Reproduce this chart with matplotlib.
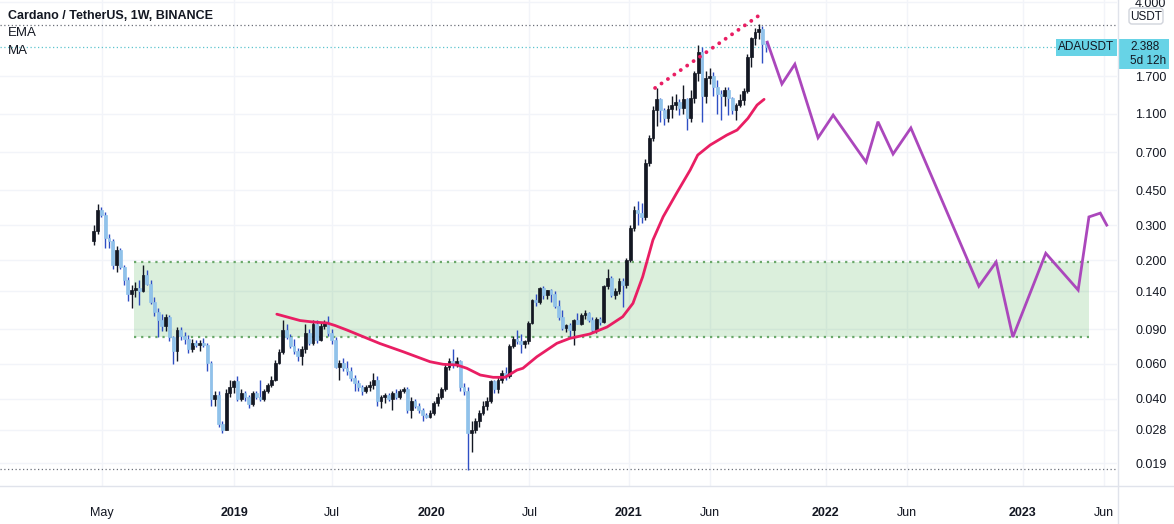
import numpy as np
import pandas as pd
import matplotlib
matplotlib.use("Agg")
import matplotlib.pyplot as plt
import matplotlib.dates as mdates
from matplotlib.patches import Rectangle, FancyBboxPatch

plt.rcParams['font.family'] = ['Liberation Sans', 'DejaVu Sans']

# Weekly ADA/USDT candles (week starts), open = previous close
first_week = "2018-04-16"
first_open = 0.25
closes = [0.28, 0.36, 0.34, 0.26, 0.25, 0.19, 0.225, 0.186, 0.16, 0.135,
          0.142, 0.145, 0.14, 0.168, 0.152, 0.123, 0.11, 0.10, 0.093, 0.103,
          0.082, 0.070, 0.089, 0.083, 0.080, 0.071, 0.077, 0.075, 0.077, 0.075,
          0.061, 0.040, 0.042, 0.030, 0.028, 0.043, 0.046, 0.049, 0.040, 0.043,
          0.041, 0.0375, 0.043, 0.041, 0.040, 0.044, 0.047, 0.050, 0.061, 0.069,
          0.089, 0.082, 0.074, 0.070, 0.066, 0.071, 0.086, 0.077, 0.096, 0.079,
          0.093, 0.097, 0.086, 0.079, 0.058, 0.061, 0.057, 0.055, 0.051, 0.048,
          0.046, 0.044, 0.046, 0.047, 0.050, 0.039, 0.041, 0.042, 0.040, 0.043,
          0.041, 0.044, 0.045, 0.035, 0.039, 0.037, 0.035, 0.033, 0.0325, 0.034,
          0.038, 0.041, 0.045, 0.058, 0.062, 0.060, 0.062, 0.046, 0.044, 0.027,
          0.028, 0.031, 0.034, 0.037, 0.039, 0.049, 0.045, 0.050, 0.054, 0.052,
          0.074, 0.080, 0.078, 0.076, 0.078, 0.097, 0.126, 0.123, 0.145, 0.133,
          0.141, 0.135, 0.117, 0.103, 0.091, 0.094, 0.089, 0.100, 0.096, 0.106,
          0.109, 0.100, 0.089, 0.101, 0.098, 0.148, 0.162, 0.133, 0.140, 0.158,
          0.150, 0.200, 0.290, 0.360, 0.345, 0.330, 0.620, 0.830, 1.15, 1.30,
          1.15, 1.05, 1.16, 1.22, 1.26, 1.17, 1.30, 1.05, 1.31, 1.76,
          2.25, 1.35, 1.66, 1.70, 1.50, 1.38, 1.35, 1.44, 1.31, 1.15,
          1.21, 1.29, 1.43, 2.12, 2.63, 2.84, 2.94, 2.48, 2.388]
highs = [0.30, 0.385, 0.37, 0.35, 0.27, 0.255, 0.235, 0.23, 0.19, 0.165,
         0.15, 0.155, 0.16, 0.19, 0.178, 0.16, 0.13, 0.115, 0.107, 0.107,
         0.106, 0.083, 0.092, 0.092, 0.087, 0.084, 0.080, 0.079, 0.079, 0.081,
         0.077, 0.062, 0.044, 0.044, 0.031, 0.045, 0.050, 0.050, 0.052, 0.045,
         0.044, 0.042, 0.044, 0.044, 0.050, 0.045, 0.048, 0.052, 0.063, 0.071,
         0.100, 0.095, 0.085, 0.080, 0.072, 0.074, 0.095, 0.090, 0.100, 0.100,
         0.097, 0.100, 0.105, 0.090, 0.082, 0.063, 0.064, 0.062, 0.058, 0.053,
         0.050, 0.047, 0.047, 0.049, 0.054, 0.052, 0.042, 0.043, 0.043, 0.044,
         0.045, 0.045, 0.046, 0.046, 0.041, 0.040, 0.038, 0.036, 0.034, 0.035,
         0.039, 0.043, 0.046, 0.060, 0.064, 0.071, 0.065, 0.063, 0.048, 0.046,
         0.031, 0.032, 0.035, 0.039, 0.041, 0.050, 0.050, 0.052, 0.056, 0.058,
         0.076, 0.083, 0.089, 0.085, 0.079, 0.099, 0.128, 0.136, 0.147, 0.148,
         0.142, 0.143, 0.140, 0.126, 0.112, 0.096, 0.097, 0.101, 0.108, 0.109,
         0.112, 0.110, 0.104, 0.104, 0.104, 0.150, 0.180, 0.166, 0.145, 0.163,
         0.162, 0.205, 0.300, 0.375, 0.400, 0.390, 0.650, 0.860, 1.20, 1.48,
         1.32, 1.17, 1.22, 1.35, 1.38, 1.30, 1.53, 1.32, 1.45, 1.80,
         2.43, 2.37, 1.80, 1.87, 1.78, 1.62, 1.45, 1.50, 1.49, 1.34,
         1.24, 1.38, 1.48, 2.20, 2.68, 2.96, 3.10, 3.05, 2.55]
lows = [0.24, 0.27, 0.33, 0.23, 0.23, 0.18, 0.175, 0.18, 0.15, 0.125,
        0.115, 0.13, 0.119, 0.138, 0.15, 0.12, 0.105, 0.082, 0.088, 0.088,
        0.078, 0.060, 0.062, 0.079, 0.076, 0.068, 0.069, 0.073, 0.070, 0.073,
        0.055, 0.037, 0.037, 0.029, 0.027, 0.028, 0.041, 0.043, 0.039, 0.039,
        0.039, 0.036, 0.037, 0.040, 0.039, 0.039, 0.043, 0.046, 0.049, 0.060,
        0.067, 0.080, 0.072, 0.067, 0.062, 0.059, 0.068, 0.075, 0.075, 0.077,
        0.078, 0.090, 0.083, 0.076, 0.057, 0.050, 0.055, 0.053, 0.049, 0.044,
        0.044, 0.042, 0.043, 0.044, 0.045, 0.037, 0.036, 0.038, 0.039, 0.035,
        0.040, 0.040, 0.043, 0.034, 0.032, 0.036, 0.034, 0.031, 0.032, 0.032,
        0.033, 0.037, 0.040, 0.044, 0.056, 0.057, 0.058, 0.044, 0.042, 0.0176,
        0.0215, 0.027, 0.029, 0.033, 0.035, 0.038, 0.043, 0.043, 0.048, 0.050,
        0.051, 0.072, 0.076, 0.068, 0.072, 0.076, 0.095, 0.118, 0.120, 0.128,
        0.128, 0.123, 0.115, 0.100, 0.089, 0.087, 0.082, 0.075, 0.095, 0.094,
        0.101, 0.098, 0.087, 0.086, 0.094, 0.097, 0.143, 0.130, 0.128, 0.136,
        0.116, 0.145, 0.195, 0.280, 0.300, 0.310, 0.320, 0.600, 0.800, 0.95,
        1.00, 0.96, 1.00, 1.05, 1.14, 1.08, 1.10, 0.91, 1.00, 1.25,
        1.60, 1.00, 1.25, 1.55, 1.35, 1.10, 1.02, 1.20, 1.08, 1.10,
        1.02, 1.18, 1.22, 1.40, 1.88, 2.45, 2.60, 1.98, 2.25]

# moving average line
ma_dates = ["2019-03-21", "2019-05-03", "2019-05-27", "2019-06-22", "2019-07-07",
            "2019-07-29", "2019-08-28", "2019-09-28", "2019-11-10", "2019-12-30",
            "2020-01-23", "2020-02-18", "2020-03-07", "2020-04-01", "2020-04-25",
            "2020-05-17", "2020-06-08", "2020-06-19", "2020-07-15", "2020-08-21",
            "2020-09-14", "2020-10-21", "2020-11-22", "2020-12-21", "2021-01-09",
            "2021-01-27", "2021-02-15", "2021-03-06", "2021-03-31", "2021-04-25",
            "2021-05-09", "2021-06-01", "2021-07-02", "2021-07-21", "2021-08-10",
            "2021-08-27", "2021-09-09"]
ma_values = [0.107, 0.0994, 0.0977, 0.0966, 0.0938,
             0.0890, 0.0824, 0.0761, 0.0692, 0.0616,
             0.0598, 0.0593, 0.0571, 0.0528, 0.0514,
             0.0514, 0.0559, 0.0571, 0.0653, 0.0763,
             0.0808, 0.0850, 0.0922, 0.1039, 0.1214,
             0.1653, 0.2532, 0.3319, 0.4369, 0.5706,
             0.6792, 0.7627, 0.8567, 0.9081, 1.040,
             1.214, 1.297]

# drawn projection path
proj_dates = ["2021-09-15", "2021-10-12", "2021-11-05", "2021-12-18", "2022-01-15",
              "2022-03-17", "2022-04-08", "2022-05-06", "2022-06-08", "2022-10-12",
              "2022-11-13", "2022-12-14", "2023-02-13", "2023-04-14", "2023-05-04",
              "2023-05-25", "2023-06-06"]
proj_values = [2.52, 1.55, 1.95, 0.83, 1.08,
               0.626, 1.00, 0.687, 0.93, 0.148,
               0.196, 0.082, 0.217, 0.1416, 0.331,
               0.346, 0.301]

trend_dates = ["2021-02-19", "2021-08-29"]
trend_values = [1.48, 3.41]

zone_dates = ["2018-06-30", "2023-05-04"]
zone_low = 0.082
zone_high = 0.196

ath_level = 3.07
last_price = 2.388
low_level = 0.0178

ytick_vals = [4.0, 1.7, 1.1, 0.7, 0.45, 0.3, 0.2, 0.14, 0.09, 0.06, 0.04, 0.028, 0.019]
xtick_dates = ["2018-05-01", "2019-01-01", "2019-07-01", "2020-01-01", "2020-07-01",
               "2021-01-01", "2021-06-01", "2022-01-01", "2022-06-01", "2023-01-01",
               "2023-06-01"]
xtick_labels = ["May", "2019", "Jul", "2020", "Jul", "2021", "Jun", "2022", "Jun", "2023", "Jun"]


def dnum(s):
    return mdates.date2num(pd.to_datetime(s))


W, H = 1174, 524
fig = plt.figure(figsize=(W / 100, H / 100), dpi=100)
fig.patch.set_facecolor("white")
plot_bottom = 486
plot_right = 1117
ax = fig.add_axes([0, (H - plot_bottom) / H, plot_right / W, plot_bottom / H])
ax.set_yscale("log")
ax.set_xlim(dnum("2017-10-24"), dnum("2023-06-25"))
ax.set_ylim(0.01455, 4.11)
for s in ax.spines.values():
    s.set_visible(False)

# grid
ax.set_yticks(ytick_vals)
ax.yaxis.set_minor_locator(matplotlib.ticker.NullLocator())
ax.set_yticklabels([f"{v:.3f}" for v in ytick_vals])
ax.set_xticks([dnum(d) for d in xtick_dates])
ax.set_xticklabels(xtick_labels)
for lbl in ax.get_xticklabels():
    if lbl.get_text().isdigit():
        lbl.set_fontweight("bold")
ax.grid(True, color="#f2f4f9", lw=1)
ax.set_axisbelow(True)
ax.yaxis.tick_right()
ax.tick_params(axis="y", length=0, pad=13, labelsize=9, colors="#131722")
ax.tick_params(axis="x", length=0, pad=15, labelsize=9, colors="#131722")

# support zone
zx = [dnum(d) for d in zone_dates]
ax.fill_between(zx, zone_low, zone_high, color="#4caf50", alpha=0.2, lw=0, zorder=1)
ax.hlines([zone_low, zone_high], zx[0], zx[1], colors="#6aa86a", lw=1.6,
          linestyles=(0, (1, 2.2)), zorder=2)

# horizontal levels
ax.axhline(ath_level, color="#6b6f78", lw=0.9, ls=(0, (1, 2)), zorder=2)
ax.axhline(last_price, color="#5cc4cf", lw=0.9, ls=(0, (1, 2)), zorder=2)
ax.axhline(low_level, color="#6b6f78", lw=0.9, ls=(0, (1, 2)), zorder=2)

# candles
weeks = pd.date_range(first_week, periods=len(closes), freq="7D")
xc = mdates.date2num(weeks)
c = np.array(closes)
o = np.array([first_open] + closes[:-1])
hi = np.array(highs)
lo = np.array(lows)
up = c >= o
wick_col = np.where(up, "#131722", "#2f4fc4")
body_col = np.where(up, "#131722", "#90c2ea")
ax.vlines(xc, lo, hi, colors=wick_col, lw=1, zorder=3)
ax.bar(xc, np.abs(c - o), bottom=np.minimum(o, c), width=5.2, color=body_col,
       edgecolor=body_col, lw=0.5, zorder=4)

# moving average
ax.plot([dnum(d) for d in ma_dates], ma_values, color="#e91e63", lw=2, zorder=5,
        solid_capstyle="round", solid_joinstyle="round")

# dotted trend line over the highs
ax.plot([dnum(d) for d in trend_dates], trend_values, color="#e91e63", lw=2.8,
        ls=(0, (0.01, 2.0)), dash_capstyle="round", zorder=5)

# projection
ax.plot([dnum(d) for d in proj_dates], proj_values, color="#ab47bc", lw=2, zorder=6,
        solid_joinstyle="miter")

# overlay in pixel coords for labels and frame lines
ov = fig.add_axes([0, 0, 1, 1], zorder=10)
ov.set_xlim(0, W)
ov.set_ylim(H, 0)
ov.axis("off")
ov.patch.set_alpha(0)
ov.plot([0, W], [plot_bottom, plot_bottom], color="#e0e3eb", lw=1)
ov.plot([plot_right + 0.5, plot_right + 0.5], [0, H], color="#e0e3eb", lw=1)

ov.text(8, 16, "Cardano / TetherUS, 1W, BINANCE", fontsize=9, fontweight="bold",
        color="#131722", va="center", ha="left")
ov.text(8, 33, "EMA", fontsize=9.5, color="#131722", va="center", ha="left")
ov.text(8, 51, "MA", fontsize=9.5, color="#131722", va="center", ha="left")

# last price labels
py = H - ax.transData.transform((ax.get_xlim()[0], last_price))[1]
ov.add_patch(Rectangle((1056, py - 8), 61, 17, color="#67d3e6", lw=0))
ov.text(1086, py + 0.5, "ADAUSDT", fontsize=8.5, color="#131722", ha="center", va="center")
ov.add_patch(Rectangle((1118, py - 8), 51, 30, color="#67d3e6", lw=0))
ov.text(1130, py + 0.5, f"{last_price:.3f}", fontsize=8.5, color="#131722", ha="left", va="center")
ov.text(1130, py + 14, "5d 12h", fontsize=8.5, color="#131722", ha="left", va="center")

ov.add_patch(FancyBboxPatch((1129, 8), 34, 16, boxstyle="round,pad=0,rounding_size=3",
                            fc="white", ec="#d1d4dc", lw=1))
ov.text(1146, 16.5, "USDT", fontsize=8.5, color="#131722", ha="center", va="center")

fig.savefig("out.png", dpi=100, facecolor="white")
